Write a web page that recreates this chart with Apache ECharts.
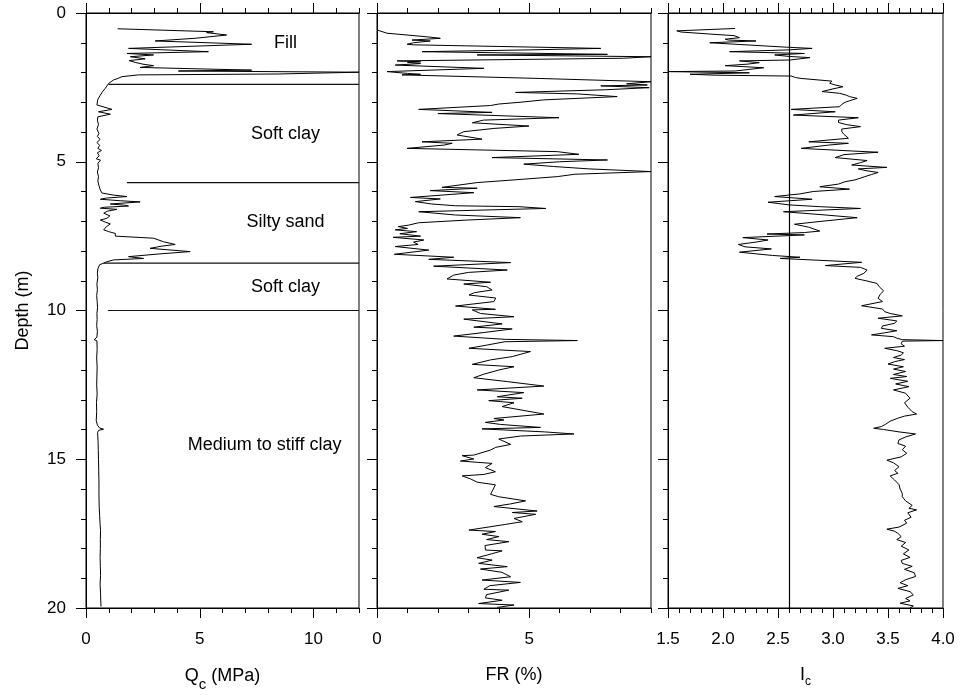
<!DOCTYPE html>
<html>
<head>
<meta charset="utf-8">
<script src="https://cdn.jsdelivr.net/npm/echarts@6/dist/echarts.min.js"></script>
<style>
html,body{margin:0;padding:0;background:#fff;}
#chart{width:961px;height:698px;}
</style>
</head>
<body>
<div id="chart"></div>
<script>
// ---------- DATA ----------
// Cone resistance Qc (MPa) vs depth (m)
var qcDepth = [0.53,0.63,0.66,0.74,0.85,0.94,1.05,1.19,1.30,1.36,1.41,1.47,1.54,1.60,1.66,1.72,1.77,1.83,1.92,1.95,1.99,2.05,2.08,2.14,2.20,2.25,2.31,2.37,2.45,2.53,2.65,2.76,2.90,3.09,3.15,3.24,3.32,3.40,3.49,3.60,3.75,3.90,4.05,4.15,4.25,4.35,4.45,4.55,4.62,4.70,4.80,4.90,4.95,5.05,5.20,5.35,5.50,5.65,5.80,5.95,6.05,6.12,6.17,6.22,6.26,6.31,6.35,6.42,6.46,6.49,6.53,6.56,6.60,6.66,6.73,6.82,6.90,6.96,7.03,7.09,7.18,7.29,7.35,7.41,7.50,7.57,7.62,7.69,7.78,7.84,7.91,7.96,8.02,8.10,8.19,8.25,8.30,8.36,8.41,8.46,8.50,8.60,8.75,8.90,9.10,9.30,9.50,9.70,9.90,10.10,10.30,10.50,10.70,10.90,10.98,11.02,11.30,11.60,11.90,12.20,12.50,12.80,13.10,13.40,13.70,13.85,13.95,13.99,14.03,14.10,14.40,14.70,15.00,15.40,15.80,16.20,16.60,16.90,17.20,17.40,17.70,18.00,18.30,18.60,18.90,19.20,19.50,19.80,19.95];
var qcValue = [1.39,5.60,5.30,6.18,4.79,3.04,7.28,1.87,5.38,1.80,2.97,1.95,2.60,1.90,2.16,2.50,2.97,2.38,7.28,4.06,12.0,8.45,2.31,1.58,1.40,1.21,1.10,0.99,0.92,0.85,0.72,0.63,0.52,0.48,0.55,1.14,0.55,1.07,0.52,0.50,0.55,0.48,0.57,0.50,0.62,0.48,0.60,0.52,0.68,0.50,0.58,0.45,0.64,0.52,0.55,0.50,0.55,0.52,0.57,0.63,0.70,1.20,1.80,0.90,0.63,1.50,2.38,1.07,1.70,1.87,0.80,0.63,1.36,0.95,0.78,1.05,0.92,0.63,0.85,1.07,0.90,0.78,1.00,1.29,1.29,2.97,3.00,3.41,3.92,3.30,2.82,3.60,4.58,3.20,1.87,2.53,1.21,0.92,0.78,0.60,0.55,0.52,0.50,0.52,0.48,0.50,0.47,0.49,0.51,0.48,0.49,0.47,0.50,0.48,0.36,0.48,0.49,0.47,0.49,0.48,0.47,0.49,0.46,0.47,0.45,0.50,0.60,0.77,0.55,0.51,0.53,0.54,0.55,0.56,0.57,0.57,0.58,0.60,0.62,0.64,0.63,0.63,0.62,0.63,0.64,0.62,0.64,0.65,0.66];

// Friction ratio FR (%) vs depth (m)
var frDepth = [0.57,0.68,0.74,0.80,0.85,0.91,0.94,1.00,1.05,1.07,1.19,1.24,1.30,1.39,1.41,1.47,1.52,1.61,1.64,1.66,1.70,1.75,1.86,1.97,2.03,2.06,2.08,2.20,2.31,2.38,2.42,2.45,2.51,2.58,2.67,2.72,2.76,2.81,2.92,3.00,3.06,3.11,3.24,3.34,3.38,3.43,3.52,3.60,3.69,3.80,3.88,3.99,4.10,4.24,4.33,4.38,4.44,4.55,4.66,4.75,4.86,4.94,5.00,5.08,5.16,5.24,5.33,5.42,5.50,5.61,5.70,5.86,5.89,5.97,6.04,6.20,6.25,6.34,6.42,6.48,6.51,6.57,6.68,6.79,6.88,6.96,7.05,7.13,7.18,7.24,7.29,7.35,7.42,7.50,7.54,7.63,7.70,7.78,7.85,7.97,8.11,8.21,8.28,8.39,8.51,8.64,8.72,8.81,8.94,9.05,9.11,9.20,9.31,9.40,9.48,9.58,9.70,9.85,9.96,9.98,10.10,10.21,10.29,10.45,10.56,10.62,10.74,10.86,10.97,11.01,11.05,11.16,11.27,11.38,11.55,11.66,11.81,11.89,12.00,12.14,12.26,12.39,12.54,12.67,12.76,12.90,12.95,13.03,13.10,13.23,13.29,13.48,13.63,13.68,13.76,13.83,13.93,13.98,14.08,14.15,14.22,14.32,14.50,14.60,14.69,14.86,14.88,14.99,15.06,15.14,15.28,15.42,15.51,15.56,15.66,15.77,15.86,16.18,16.26,16.40,16.50,16.59,16.74,16.79,16.85,16.99,17.10,17.19,17.38,17.43,17.52,17.60,17.70,17.77,17.90,18.05,18.08,18.22,18.31,18.39,18.50,18.61,18.69,18.80,18.95,19.06,19.14,19.25,19.37,19.40,19.55,19.66,19.74,19.85,19.90,19.98];
var frValue = [0.00,0.33,0.99,1.64,2.08,1.15,1.75,1.20,0.99,1.20,7.35,5.00,1.48,7.57,3.29,9.00,8.10,0.66,1.43,1.00,1.43,0.60,3.51,0.33,1.00,1.43,0.82,5.32,9.00,8.20,8.88,7.35,8.94,7.50,4.55,6.58,6.58,7.89,5.48,4.70,4.00,3.73,1.37,3.78,2.00,1.97,5.98,3.50,3.13,4.99,3.84,2.85,2.63,3.45,1.48,2.47,2.20,0.99,5.92,6.63,3.78,7.57,6.00,4.82,5.80,6.96,9.00,6.50,5.92,4.50,3.29,2.14,3.29,1.75,3.18,1.10,2.08,1.26,1.80,2.58,4.66,5.54,1.37,2.58,4.71,2.96,1.37,1.04,0.70,1.00,0.60,1.30,0.75,1.43,0.53,1.54,1.20,1.35,0.60,1.70,0.57,2.52,1.70,4.39,1.86,4.28,3.00,2.52,2.30,3.73,2.85,3.60,3.78,3.20,3.02,3.90,3.84,2.58,3.89,3.13,3.40,4.50,2.85,4.11,3.18,4.44,3.51,2.52,4.22,6.58,4.20,3.62,3.02,5.04,4.44,3.73,3.13,4.50,4.00,3.51,3.18,4.28,5.48,3.29,4.82,3.95,4.77,3.67,4.50,4.11,4.11,5.48,3.84,4.17,3.56,4.06,5.37,3.45,5.50,6.47,4.71,4.00,4.39,3.90,3.73,3.18,2.80,3.18,2.74,3.78,3.56,3.89,3.51,2.80,3.07,3.29,3.89,3.73,4.00,4.88,4.39,3.84,5.26,4.44,5.21,4.50,4.77,4.22,3.02,3.89,3.45,4.00,3.60,4.33,3.55,3.56,4.11,3.62,3.29,3.78,3.34,4.28,3.40,4.10,4.39,3.45,4.71,3.70,3.51,4.33,3.60,3.56,4.11,3.34,4.50,3.95];

// Soil behaviour type index Ic vs depth (m)
var icDepth = [0.52,0.60,0.64,0.71,0.76,0.83,0.88,0.91,0.94,1.00,1.15,1.19,1.24,1.30,1.36,1.41,1.46,1.50,1.58,1.61,1.67,1.72,1.77,1.84,1.95,1.97,2.01,2.06,2.09,2.12,2.17,2.20,2.29,2.36,2.42,2.48,2.55,2.64,2.70,2.76,2.81,2.87,2.95,3.00,3.07,3.15,3.24,3.32,3.43,3.52,3.60,3.68,3.75,3.82,3.90,3.99,4.08,4.21,4.33,4.38,4.44,4.55,4.64,4.68,4.76,4.86,4.96,5.03,5.11,5.19,5.24,5.30,5.36,5.43,5.50,5.61,5.67,5.75,5.84,5.92,6.00,6.08,6.17,6.26,6.36,6.45,6.51,6.57,6.68,6.78,6.88,7.00,7.10,7.20,7.33,7.38,7.43,7.46,7.55,7.63,7.70,7.78,7.86,7.93,8.04,8.15,8.21,8.25,8.38,8.49,8.55,8.64,8.75,8.85,8.92,9.00,9.09,9.20,9.34,9.45,9.59,9.70,9.84,9.95,10.04,10.10,10.18,10.26,10.35,10.43,10.52,10.60,10.68,10.75,10.82,10.88,10.93,10.98,11.01,11.03,11.12,11.20,11.27,11.35,11.42,11.50,11.58,11.65,11.72,11.80,11.89,11.97,12.05,12.15,12.22,12.28,12.38,12.47,12.56,12.67,12.78,12.95,13.10,13.25,13.40,13.48,13.55,13.62,13.72,13.82,13.90,13.96,14.00,14.08,14.15,14.25,14.35,14.47,14.56,14.68,14.80,14.92,15.03,15.12,15.25,15.38,15.47,15.56,15.70,15.85,16.00,16.15,16.26,16.40,16.55,16.65,16.70,16.80,16.95,17.05,17.15,17.28,17.35,17.42,17.49,17.60,17.70,17.80,17.92,18.05,18.18,18.30,18.40,18.50,18.60,18.70,18.82,18.94,19.05,19.15,19.25,19.34,19.45,19.56,19.68,19.76,19.84,19.93,20.00];
var icValue = [2.11,1.58,1.62,1.89,2.10,2.15,2.02,2.05,2.30,1.88,2.58,2.81,2.60,2.06,2.74,2.47,2.60,2.79,2.61,2.15,2.33,2.22,2.02,2.37,2.11,1.50,2.24,1.70,1.93,2.62,2.66,2.71,2.99,2.97,3.02,3.09,3.00,2.90,3.06,3.12,3.15,3.22,3.15,3.11,3.08,3.06,2.62,3.02,2.64,3.23,3.05,3.05,3.12,3.25,3.08,3.08,3.10,3.14,2.78,3.14,2.96,2.71,3.18,3.41,3.10,3.02,3.31,3.25,3.17,3.49,3.23,3.30,3.41,3.35,3.29,3.20,3.11,3.05,2.88,3.15,2.82,2.70,2.47,2.81,2.41,2.60,2.88,3.25,2.55,2.90,3.22,2.90,2.65,2.78,2.88,2.74,2.40,2.74,2.18,2.41,2.30,2.14,2.20,2.44,2.15,2.45,2.70,2.52,3.26,2.93,3.25,3.31,3.28,3.22,3.20,3.30,3.40,3.42,3.46,3.43,3.41,3.45,3.26,3.45,3.47,3.52,3.63,3.41,3.58,3.56,3.45,3.44,3.58,3.47,3.35,3.55,3.58,3.63,4.00,3.63,3.62,3.65,3.47,3.58,3.64,3.62,3.55,3.65,3.56,3.50,3.64,3.55,3.66,3.55,3.67,3.52,3.68,3.57,3.69,3.55,3.66,3.70,3.65,3.68,3.72,3.76,3.65,3.59,3.52,3.48,3.44,3.37,3.46,3.60,3.75,3.66,3.60,3.59,3.66,3.63,3.67,3.62,3.49,3.55,3.60,3.56,3.59,3.52,3.56,3.60,3.61,3.63,3.63,3.66,3.72,3.69,3.76,3.68,3.71,3.65,3.67,3.60,3.49,3.56,3.59,3.62,3.58,3.66,3.62,3.69,3.64,3.70,3.62,3.63,3.72,3.65,3.74,3.75,3.66,3.61,3.68,3.59,3.70,3.73,3.66,3.70,3.61,3.73,3.70];

// Layer boundaries (depth m, Qc where the line starts)
var boundaryDepth = [2.40, 5.70, 8.41, 10.0];
var boundaryStartQc = [0.99, 1.80, 0.77, 0.96];
var boundaryEndQc = 12;

// Layer names and their anchor (Qc, depth)
var layerNames = ['Fill', 'Soft clay', 'Silty sand', 'Soft clay', 'Medium to stiff clay'];
var layerLabelQc = [8.77, 8.77, 8.77, 8.77, 7.85];
var layerLabelDepth = [1.02, 4.08, 7.03, 9.20, 14.52];

// Ic threshold line
var icThreshold = 2.6;

// Tick settings
var depthTicks = {min: 0, max: 20, major: 5};
var qcTicks = {min: 0, max: 12, minor: 1, major: 5, lastMajor: 10};
var frTicks = {min: 0, max: 9, minor: 1, major: 5, lastMajor: 5};
var icTicks = {min: 1.5, max: 4.0, major: 0.5};

// ---------- LAYOUT ----------
var FONT = 'Liberation Sans, Arial, Helvetica, sans-serif';
var TOP = 13, HEIGHT = 595;
var P = [{left: 86, width: 273}, {left: 377, width: 274}, {left: 668, width: 275}];

function zip(a, b) { return a.map(function (v, i) { return [v, b[i]]; }); }

var grids = [
  {left: P[0].left, top: TOP, width: P[0].width, height: HEIGHT, show: true, borderColor: '#000', borderWidth: 1},
  {left: P[1].left, top: TOP, width: P[1].width, height: HEIGHT, show: true, borderColor: '#000', borderWidth: 1},
  {left: P[2].left, top: TOP, width: P[2].width, height: HEIGHT, show: true, borderColor: '#000', borderWidth: 1},
  // grids carrying only the long (major) ticks of the Qc and FR axes
  {left: P[0].left, top: TOP, height: HEIGHT, width: P[0].width * (qcTicks.lastMajor - qcTicks.min) / (qcTicks.max - qcTicks.min)},
  {left: P[1].left, top: TOP, height: HEIGHT, width: P[1].width * (frTicks.lastMajor - frTicks.min) / (frTicks.max - frTicks.min)}
];

var lineBlack = {color: '#000', width: 1};
var labelStyle = {color: '#000', fontSize: 17, fontFamily: FONT};

function minorAxis(grid, pos, t) {
  return {
    type: 'value', gridIndex: grid, position: pos, min: t.min, max: t.max, interval: t.minor,
    axisLine: {show: true, onZero: false, lineStyle: lineBlack},
    axisTick: {show: true, length: 5, lineStyle: lineBlack},
    axisLabel: {show: false}, splitLine: {show: false}
  };
}
function majorAxis(grid, pos, t, labels) {
  return {
    type: 'value', gridIndex: grid, position: pos, min: t.min, max: t.lastMajor, interval: t.major,
    axisLine: {show: false, onZero: false},
    axisTick: {show: true, length: 10, lineStyle: lineBlack},
    axisLabel: Object.assign({show: labels, margin: 23}, labelStyle),
    splitLine: {show: false}
  };
}
function icAxis(pos, labels) {
  return {
    type: 'value', gridIndex: 2, position: pos, min: icTicks.min, max: icTicks.max, interval: icTicks.major,
    axisLine: {show: true, onZero: false, lineStyle: lineBlack},
    axisTick: {show: true, length: 10, lineStyle: lineBlack},
    minorTick: {show: true, splitNumber: 5, length: 5, lineStyle: lineBlack},
    axisLabel: Object.assign({show: labels, margin: 23, formatter: function (v) { return v.toFixed(1); }}, labelStyle),
    splitLine: {show: false}, minorSplitLine: {show: false}
  };
}

var xQcBottom = minorAxis(0, 'bottom', qcTicks);
xQcBottom.name = '{q|Q}{s|c}{q| (MPa)}';
xQcBottom.nameLocation = 'middle';
xQcBottom.nameGap = 53;
xQcBottom.nameTextStyle = {color: '#000', fontFamily: FONT, rich: {
  q: {fontSize: 18, color: '#000', fontFamily: FONT},
  s: {fontSize: 15, color: '#000', fontFamily: FONT, padding: [16, 0, 0, 0]}
}};

var xFrBottom = minorAxis(1, 'bottom', frTicks);
xFrBottom.name = 'FR (%)';
xFrBottom.nameLocation = 'middle';
xFrBottom.nameGap = 58;
xFrBottom.nameTextStyle = {color: '#000', fontSize: 18, fontFamily: FONT};

var xIcBottom = icAxis('bottom', true);
xIcBottom.name = '{q|I}{s|c}';
xIcBottom.nameLocation = 'middle';
xIcBottom.nameGap = 54;
xIcBottom.nameTextStyle = {color: '#000', fontFamily: FONT, rich: {
  q: {fontSize: 18, color: '#000', fontFamily: FONT},
  s: {fontSize: 12, color: '#000', fontFamily: FONT, padding: [14, 0, 0, 0]}
}};

var xAxes = [
  xQcBottom,                                 // 0
  minorAxis(0, 'top', qcTicks),              // 1
  majorAxis(3, 'bottom', qcTicks, true),     // 2
  majorAxis(3, 'top', qcTicks, false),       // 3
  xFrBottom,                                 // 4
  minorAxis(1, 'top', frTicks),              // 5
  majorAxis(4, 'bottom', frTicks, true),     // 6
  majorAxis(4, 'top', frTicks, false),       // 7
  xIcBottom,                                 // 8
  icAxis('top', false)                       // 9
];

function depthAxis(grid, labels, visible) {
  return {
    type: 'value', gridIndex: grid, position: 'left', inverse: true,
    min: depthTicks.min, max: depthTicks.max, interval: depthTicks.major, show: visible,
    axisLine: {show: true, onZero: false, lineStyle: lineBlack},
    axisTick: {show: true, length: 10, lineStyle: lineBlack},
    minorTick: {show: true, splitNumber: 5, length: 5, lineStyle: lineBlack},
    axisLabel: Object.assign({show: labels, margin: 20}, labelStyle),
    splitLine: {show: false}, minorSplitLine: {show: false}
  };
}
var yDepth = depthAxis(0, true, true);
yDepth.name = 'Depth (m)';
yDepth.nameLocation = 'middle';
yDepth.nameGap = 54;
yDepth.nameTextStyle = {color: '#000', fontSize: 18, fontFamily: FONT};

var yAxes = [yDepth, depthAxis(1, false, true), depthAxis(2, false, true), depthAxis(3, false, false), depthAxis(4, false, false)];

var series = [];
series.push({
  type: 'line', xAxisIndex: 0, yAxisIndex: 0, data: zip(qcValue, qcDepth),
  symbol: 'none', lineStyle: {color: '#000', width: 1}, clip: true, silent: true
});
boundaryDepth.forEach(function (d, i) {
  series.push({
    type: 'line', xAxisIndex: 0, yAxisIndex: 0,
    data: [[boundaryStartQc[i], d], [boundaryEndQc, d]],
    symbol: 'none', lineStyle: {color: '#111', width: 1.2}, silent: true
  });
});
series.push({
  type: 'scatter', xAxisIndex: 0, yAxisIndex: 0, symbolSize: 0, silent: true,
  itemStyle: {opacity: 1},
  data: layerNames.map(function (n, i) { return {name: n, value: [layerLabelQc[i], layerLabelDepth[i]]}; }),
  label: {show: true, position: 'inside', formatter: '{b}', color: '#000', opacity: 1, fontSize: 18, fontFamily: FONT}
});
series.push({
  type: 'line', xAxisIndex: 4, yAxisIndex: 1, data: zip(frValue, frDepth),
  symbol: 'none', lineStyle: {color: '#000', width: 1}, clip: true, silent: true
});
series.push({
  type: 'line', xAxisIndex: 8, yAxisIndex: 2, data: zip(icValue, icDepth),
  symbol: 'none', lineStyle: {color: '#000', width: 1}, clip: true, silent: true,
  markLine: {silent: true, symbol: 'none', label: {show: false},
    lineStyle: {color: '#000', width: 1.2, type: 'solid'}, data: [{xAxis: icThreshold}]}
});

var chart = echarts.init(document.getElementById('chart'), null, {renderer: 'canvas'});
chart.setOption({
  animation: false,
  backgroundColor: '#fff',
  grid: grids,
  xAxis: xAxes,
  yAxis: yAxes,
  series: series
});
</script>
</body>
</html>
